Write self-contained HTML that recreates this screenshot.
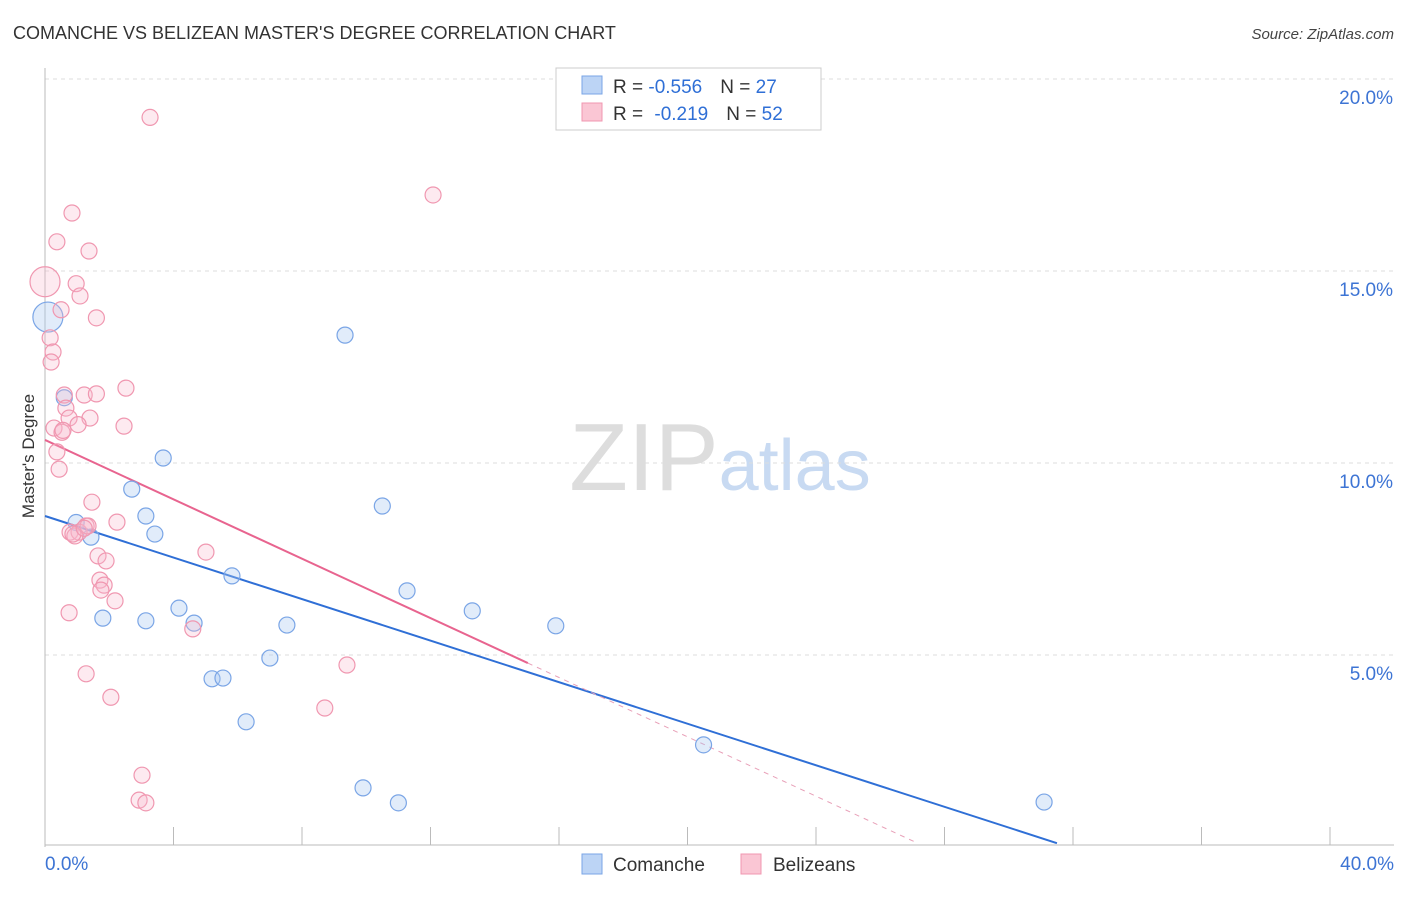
<!DOCTYPE html>
<html><head><meta charset="utf-8"><style>
body{margin:0;background:#fff;font-family:"Liberation Sans",sans-serif}
svg text{font-family:"Liberation Sans",sans-serif}
</style></head><body>
<svg id="chart" width="1406" height="892" viewBox="0 0 1406 892" xmlns="http://www.w3.org/2000/svg">
<text x="13" y="39" font-size="18" fill="#333">COMANCHE VS BELIZEAN MASTER'S DEGREE CORRELATION CHART</text>
<text x="1394" y="39" font-size="15" fill="#444" text-anchor="end" font-style="italic">Source: ZipAtlas.com</text>
<text x="720" y="490" font-size="96" text-anchor="middle" font-family="Liberation Serif" fill="#ddd"><tspan>ZIP</tspan><tspan fill="#c8daf2" font-family="Liberation Sans" font-size="72">atlas</tspan></text>
<g id="grid"></g><g id="axes"></g><g id="lines"></g><g id="pts"></g>
<text transform="translate(34,456) rotate(-90)" font-size="17" fill="#333" text-anchor="middle">Master's Degree</text>
<g>
<rect x="556" y="68" width="265" height="62" fill="#fff" stroke="#ccc"/>
<rect x="582" y="76" width="20" height="18" fill="#bcd4f5" stroke="#7aa5e6"/>
<rect x="582" y="103" width="20" height="18" fill="#fac6d4" stroke="#f097b0"/>
<text x="613" y="93" font-size="19" fill="#333">R = <tspan fill="#2f6fd6">-0.556</tspan><tspan dx="18">N = </tspan><tspan fill="#2f6fd6">27</tspan></text>
<text x="613" y="120" font-size="19" fill="#333">R = <tspan fill="#2f6fd6" dx="6">-0.219</tspan><tspan dx="18">N = </tspan><tspan fill="#2f6fd6">52</tspan></text>
</g>
<g>
<rect x="582" y="854" width="20" height="20" fill="#bcd4f5" stroke="#7aa5e6"/>
<text x="613" y="871" font-size="19" fill="#333">Comanche</text>
<rect x="741" y="854" width="20" height="20" fill="#fac6d4" stroke="#f097b0"/>
<text x="773" y="871" font-size="19" fill="#333">Belizeans</text>
</g>
</svg>
<script>
const xTicks=[0,4,8,12,16,20,24,28,32,36,40];
const yTicks=[5,10,15,20];
const comancheX=[0.09,0.6,0.97,1.43,1.8,2.7,3.14,3.14,3.42,3.68,4.17,4.64,5.2,5.54,5.82,6.26,7.0,7.53,9.34,9.9,10.5,11.0,11.27,13.3,15.9,20.5,31.1];
const comancheY=[13.8,11.7,8.45,8.07,5.96,9.32,8.62,5.89,8.15,10.13,6.22,5.83,4.38,4.4,7.06,3.26,4.92,5.78,13.33,1.54,8.88,1.15,6.67,6.15,5.76,2.66,1.17];
const belizeX=[3.27,12.08,0.84,0.37,1.37,0,0.97,1.09,0.5,1.6,0.16,0.25,0.19,2.52,0.6,1.22,1.6,0.65,0.75,1.4,1.03,2.46,0.28,0.53,0.37,0.44,1.46,2.24,1.28,0.78,1.06,0.93,1.65,5.01,1.9,1.71,1.84,1.74,2.18,0.75,4.6,9.4,1.28,2.05,8.71,3.02,2.93,3.14,1.34,0.56,0.87,1.22];
const belizeY=[19.0,16.98,16.51,15.76,15.52,14.72,14.67,14.35,13.99,13.78,13.26,12.89,12.63,11.95,11.77,11.77,11.8,11.43,11.17,11.17,11.0,10.96,10.91,10.8,10.29,9.84,8.98,8.46,8.36,8.2,8.2,8.1,7.58,7.68,7.45,6.95,6.82,6.69,6.41,6.1,5.68,4.74,4.51,3.9,3.62,1.87,1.22,1.15,8.36,10.85,8.15,8.3];
const comancheTrend=[8.62,0.1,31.5];
const belizeTrend=[10.6,4.79,15.03,27.1];
const X=v=>45+v*32.125, Y=v=>847-v*38.4;
const NS='http://www.w3.org/2000/svg';
function mk(parent,tag,a){const e=document.createElementNS(NS,tag);for(const k in a)e.setAttribute(k,a[k]);document.getElementById(parent).appendChild(e);return e;}
yTicks.forEach(t=>{
 const l=mk('grid','line',{x1:45,x2:1394,y1:Y(t),y2:Y(t),stroke:'#ddd','stroke-dasharray':'4,4'});
 
 
 const tx=mk('axes','text',{x:1393,y:Y(t)+25,'font-size':19,fill:'#3d74d4','text-anchor':'end'});
 tx.textContent=t.toFixed(1)+'%';
 
 
});
const ax=mk('axes','line',{x1:45,x2:45,y1:68,y2:847,stroke:'#bbb'});


const bx=mk('axes','line',{x1:45,x2:1394,y1:845,y2:845,stroke:'#bbb'});


xTicks.forEach(t=>{
 const l=mk('axes','line',{x1:X(t),x2:X(t),y1:827,y2:845,stroke:'#bbb'});
 
 
});
[[0,'0.0%','start',45],[40,'40.0%','end',1394]].forEach(d=>{
 const tx=mk('axes','text',{x:d[3],y:870,'font-size':19,fill:'#3d74d4','text-anchor':d[2]});
 tx.textContent=d[1];
 
 
});
comancheX.forEach((x,i)=>{
 const big=i===0;
 const c=mk('pts','circle',{cx:X(x),cy:Y(comancheY[i]),r:big?15:8,fill:'rgba(170,200,240,0.35)',stroke:'#7aa5e6','stroke-width':1.2});
 
 
});
belizeX.forEach((x,i)=>{
 const big=i===5;
 const c=mk('pts','circle',{cx:X(x),cy:Y(belizeY[i]),r:big?15:8,fill:'rgba(248,185,205,0.3)',stroke:'#f097b0','stroke-width':1.2});
 
 
});
const cl=mk('lines','line',{x1:X(0),y1:Y(comancheTrend[0]),x2:X(comancheTrend[2]),y2:Y(comancheTrend[1]),stroke:'#2f6fd6','stroke-width':2});


const slope=(belizeTrend[1]-belizeTrend[0])/belizeTrend[2];
const bl=mk('lines','line',{x1:X(0),y1:Y(belizeTrend[0]),x2:X(belizeTrend[2]),y2:Y(belizeTrend[1]),stroke:'#e8648f','stroke-width':2});


const bd=mk('lines','line',{x1:X(belizeTrend[2]),y1:Y(belizeTrend[1]),x2:X(belizeTrend[3]),y2:Y(belizeTrend[0]+slope*belizeTrend[3]),stroke:'#e8a0b8','stroke-width':1,'stroke-dasharray':'5,5'});


</script>
</body></html>
